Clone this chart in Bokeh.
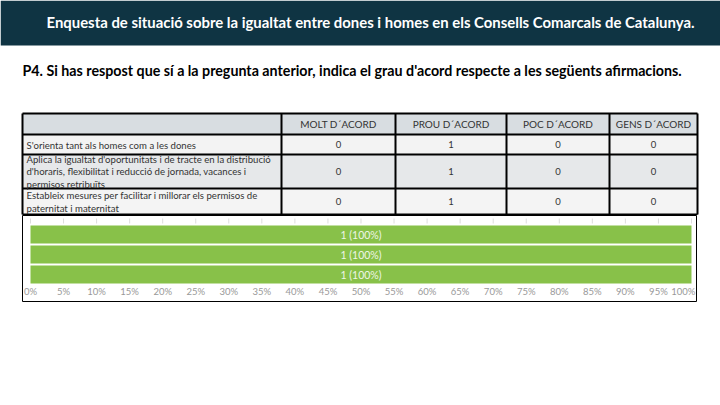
from bokeh.plotting import figure
from bokeh.layouts import column
from bokeh.models import Range1d, ColumnDataSource
from bokeh.core.properties import value
from bokeh.embed import file_html
from bokeh.resources import INLINE

# ---------------- data ----------------
title_text = "Enquesta de situació sobre la igualtat entre dones i homes en els Consells Comarcals de Catalunya."
question_text = "P4.  Si has respost que sí a la pregunta anterior, indica el grau d'acord respecte a les següents afirmacions."
statements = [
    "S'orienta tant als homes com a les dones",
    "Aplica la igualtat d'oportunitats i de tracte en la distribució\nd'horaris, flexibilitat i reducció de jornada, vacances i\npermisos retribuïts",
    "Estableix mesures per facilitar i millorar els permisos de\npaternitat i maternitat",
]
answer_labels = ["MOLT D´ACORD", "PROU D´ACORD", "POC D´ACORD", "GENS D´ACORD"]
molt = [0, 0, 0]
prou = [1, 1, 1]
poc = [0, 0, 0]
gens = [0, 0, 0]
bar_counts = [1, 1, 1]
bar_pct = [100, 100, 100]
tick_values = list(range(0, 101, 5))
tick_labels = [f"{t}%" for t in tick_values]

# ---------------- styles ----------------
FONT = "Lato"
HEADER_BG = "#0f3443"
col_edges = [22, 281, 395, 506, 609, 697]
row_edges = [113, 134, 154, 188, 214]
row_fills = ["#d8dde1", "#f3f3f3", "#e6e8ea", "#f4f4f4"]
GREEN = "#88c149"

# ---------------- top figure: header + table ----------------
W, H1 = 720, 215
pa = figure(width=W, height=H1, x_range=Range1d(0, 720), y_range=Range1d(215, 0),
            output_backend="svg", toolbar_location=None, min_border=0)
pa.axis.visible = False
pa.grid.visible = False
pa.outline_line_color = None
pa.background_fill_color = "white"

pa.quad(left=[0], right=[720], top=[0], bottom=[45], fill_color=HEADER_BG, line_color=None)
pa.text(x=[370], y=[21], text=[title_text], text_color="white", text_font=value(FONT),
        text_font_size="14.9px", text_font_style="bold", text_align="center", text_baseline="middle")
pa.text(x=[22], y=[70], text=[question_text], text_color="black", text_font=value(FONT),
        text_font_size="14.25px", text_font_style="bold", text_align="left", text_baseline="middle")

# table fills
pa.quad(left=[col_edges[0]] * 4, right=[col_edges[-1]] * 4,
        top=row_edges[:-1], bottom=row_edges[1:], fill_color=row_fills, line_color=None)
# grid lines
xs0 = [col_edges[0]] * len(row_edges) + col_edges
xs1 = [col_edges[-1]] * len(row_edges) + col_edges
ys0 = row_edges + [row_edges[0]] * len(col_edges)
ys1 = row_edges + [row_edges[-1]] * len(col_edges)
pa.segment(x0=xs0, y0=ys0, x1=xs1, y1=ys1, line_color="black", line_width=2)

# header labels
cx = [(col_edges[i] + col_edges[i + 1]) / 2 for i in range(1, 5)]
hy = (row_edges[0] + row_edges[1]) / 2
pa.text(x=cx, y=[hy] * 4, text=answer_labels, text_color="#333333", text_font=value(FONT),
        text_font_size="10px", text_align="center", text_baseline="middle")

# rows
ry = [(row_edges[i] + row_edges[i + 1]) / 2 for i in range(1, 4)]
pa.text(x=[26] * 3, y=[r + 0.5 for r in ry], text=statements, text_color="#333333", text_font=value(FONT),
        text_font_size="9.6px", text_align="left", text_baseline="middle", text_line_height=1.1)
for ci, vals in enumerate([molt, prou, poc, gens]):
    pa.text(x=[cx[ci]] * 3, y=ry, text=[str(v) for v in vals], text_color="#333333",
            text_font=value(FONT), text_font_size="9.5px", text_align="center", text_baseline="middle")

# ---------------- bottom figure: bar chart ----------------
W2, H2 = 675, 87
pb = figure(width=W2, height=H2, x_range=Range1d(-1.21, 100.91), y_range=Range1d(4.4, 0.05),
            output_backend="svg", toolbar_location=None, min_border=0, margin=(0, 0, 0, 22))
pb.axis.visible = False
pb.grid.visible = False
pb.outline_line_color = "black"
pb.outline_line_width = 1

ypos = [1, 2, 3]
src = ColumnDataSource(dict(y=ypos, pct=bar_pct, mid=[p / 2 for p in bar_pct],
                            lab=[f"{c} ({p}%)" for c, p in zip(bar_counts, bar_pct)]))
# top grid stubs
pb.segment(x0=tick_values, y0=[0.2] * len(tick_values), x1=tick_values, y1=[0.45] * len(tick_values),
           line_color="#dddddd", line_width=1)
pb.hbar(y="y", left=0, right="pct", height=0.9, source=src, fill_color=GREEN, line_color=None)
pb.text(x="mid", y="y", text="lab", source=src, text_color="#eef6e6", text_font=value(FONT),
        text_font_size="10.5px", text_align="center", text_baseline="middle")
pb.text(x=tick_values[:-1], y=[3.85] * (len(tick_values) - 1), text=tick_labels[:-1], text_color="#999999",
        text_font=value(FONT), text_font_size="9.5px", text_align="center", text_baseline="middle")
pb.text(x=tick_values[-1:], y=[3.85], text=tick_labels[-1:], text_color="#999999",
        text_font=value(FONT), text_font_size="9.5px", text_align="right", text_baseline="middle",
        x_offset=4)

layout = column(pa, pb, spacing=0)
open("out.html", "w").write(file_html(layout, INLINE))
